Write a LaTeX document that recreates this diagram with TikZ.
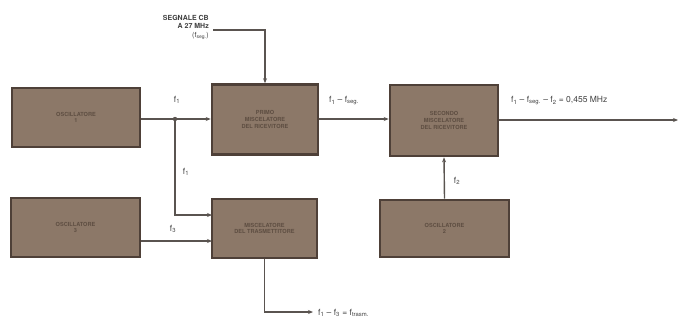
\documentclass[tikz,border=0pt]{standalone}
\usepackage{fontspec}
\setmainfont{TeX Gyre Heros}
\usetikzlibrary{arrows.meta,calc}
\definecolor{boxfill}{HTML}{8C7868}
\definecolor{boxedge}{HTML}{4E4038}
\definecolor{boxtext}{HTML}{5E4E42}
\definecolor{wire}{HTML}{5A5450}
\definecolor{lab}{HTML}{404040}
\begin{document}
\begin{tikzpicture}[x=1pt,y=-1pt,
  blk/.style={draw=boxedge,line width=2.6pt,fill=boxfill,text=boxtext,align=center,
    font=\fontsize{5.6}{6.8}\selectfont\bfseries,inner sep=0pt},
  wireline/.style={draw=wire,line width=1.4pt},
  arr/.style={wireline,-{Stealth[length=5pt,width=4pt]}},
  lbl/.style={text=lab,font=\fontsize{8.5}{9.5}\selectfont,inner sep=0pt}]
\useasboundingbox (0,0) rectangle (679,322);
% boxes
\node[blk,minimum width=128pt,minimum height=59pt] (o1) at (76,117.5) {OSCILLATORE\\1};
\node[blk,minimum width=129pt,minimum height=59pt] (o3) at (75.5,227.5) {OSCILLATORE\\3};
\node[blk,minimum width=106pt,minimum height=70pt] (m1) at (265,119.5) {PRIMO\\MISCELATORE\\DEL RICEVITORE};
\node[blk,minimum width=108pt,minimum height=71pt] (m2) at (444,120.5) {SECONDO\\MISCELATORE\\DEL RICEVITORE};
\node[blk,minimum width=105pt,minimum height=59pt] (mt) at (264.5,228.5) {MISCELATORE\\DEL TRASMETTITORE};
\node[blk,minimum width=129pt,minimum height=57pt] (o2) at (444.5,228.5) {OSCILLATORE\\2};
% coordinates
\coordinate (j) at (175,119);
\coordinate (t1) at (212,215);
\coordinate (t3) at (212,241);
\coordinate (sin) at (213,30);
\coordinate (outend) at (678,120);
\coordinate (tx) at (313,312);
% input signal
\node[lbl,anchor=east,align=right,font=\fontsize{7}{8.5}\selectfont\bfseries] (sig) at (209,27)
  {SEGNALE CB\\A 27 MHz\\{\mdseries(f\textsubscript{seg.})}};
\draw[arr] (sin) -| (m1.north);
% osc1 to mixer1
\draw[arr] (o1.east |- j) -- (m1.west |- j);
\fill[wire] (j) circle (2.2pt);
\draw[arr] (j) |- (t1);
\draw[arr] (o3.east |- t3) -- (t3);
% mixer1 to mixer2
\draw[arr] (m1.east |- 0,119) -- (m2.west |- 0,119);
\draw[arr] (m2.east |- outend) -- (outend);
\draw[arr] (o2.north) -- (m2.south);
\draw[arr] (mt.south) |- (tx);
% labels
\node[lbl] (lf1a) at (177,100) {f\textsubscript{1}};
\node[lbl] (lf1b) at (186,172) {f\textsubscript{1}};
\node[lbl] (lf3) at (173,229) {f\textsubscript{3}};
\node[lbl,anchor=west] (lm1) at (329,101) {f\textsubscript{1} -- f\textsubscript{seg.}};
\node[lbl,anchor=west] (lout) at (511,101) {f\textsubscript{1} -- f\textsubscript{seg.} -- f\textsubscript{2} = 0,455 MHz};
\node[lbl] (lf2) at (457,181) {f\textsubscript{2}};
\node[lbl,anchor=west] (ltx) at (318,313) {f\textsubscript{1} -- f\textsubscript{3} = f\textsubscript{trasm.}};
\end{tikzpicture}
\end{document}
